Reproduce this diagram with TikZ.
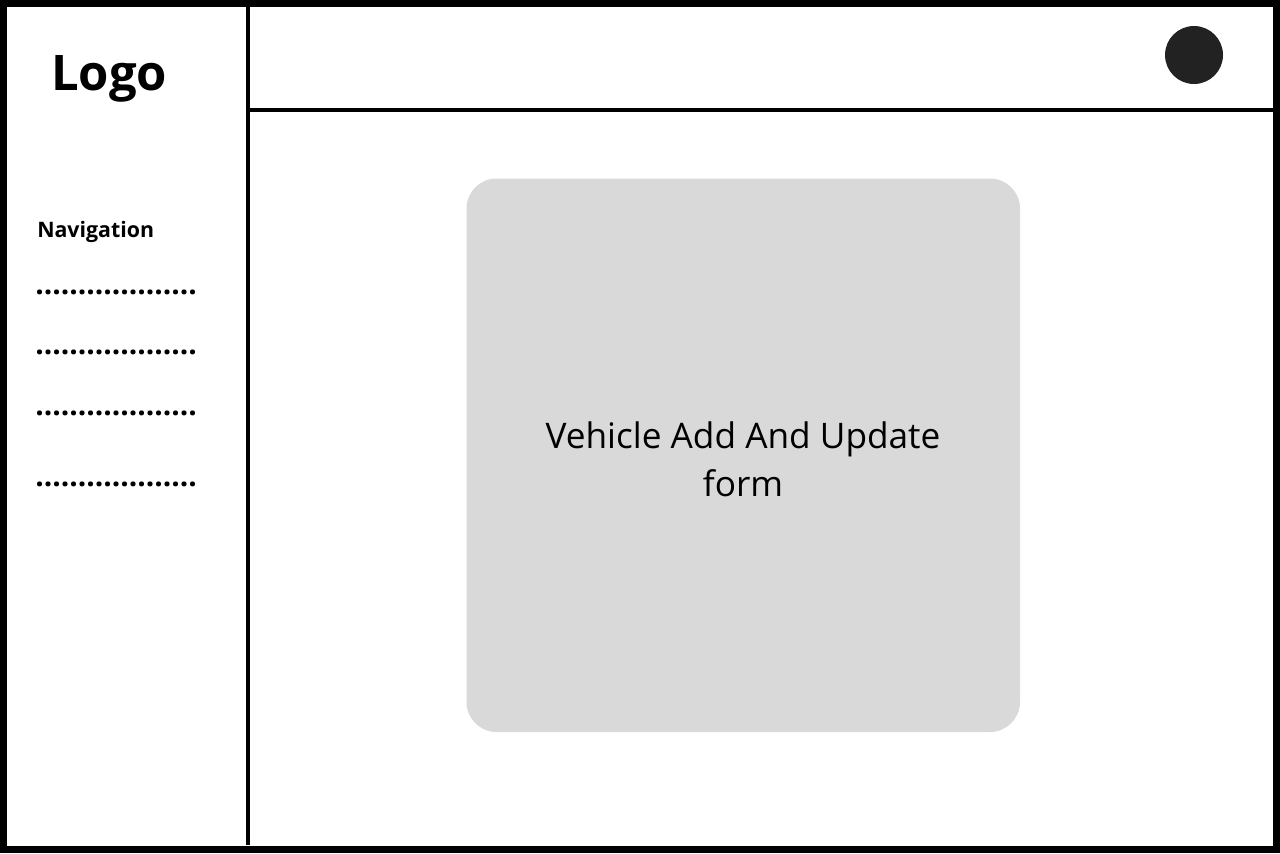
\documentclass[tikz,border=0pt]{standalone}
\usepackage{fontspec}
\setmainfont{Open Sans}
\usetikzlibrary{positioning}
\definecolor{formGray}{HTML}{D9D9D9}
\definecolor{avatarBlack}{HTML}{222222}
\begin{document}
\begin{tikzpicture}[x=0.75pt,y=-0.75pt]
    \newcommand{\navDots}{...................}
    \tikzset{
      frameLine/.style={line width=5.25pt, color=black},
      splitLine/.style={line width=3pt, color=black},
      navItem/.style={anchor=base west, inner sep=0pt, font=\fontsize{22.4}{22.4}\bfseries\selectfont}
    }
  \useasboundingbox (0,0) rectangle (1280,853);

  % outer frame, sidebar and header
  \draw[frameLine] (3.5,3.5) rectangle (1276.5,849);
  \draw[splitLine] (248,7) -- (248,845);
  \coordinate (headerLeft) at (250,109.5);
  \coordinate (headerRight) at (1273,109.5);
  \draw[splitLine] (headerLeft) -- (headerRight);

  % user avatar
  \fill[color=avatarBlack] (1194,55) circle (29);

  % sidebar
  \node[anchor=base west, inner sep=0pt, font=\fontsize{36.75}{36.75}\bfseries\selectfont] (logo) at (51,90) {Logo};
  \node[anchor=base west, inner sep=0pt, font=\fontsize{16}{16}\bfseries\selectfont] (nav) at (37,237.5) {Navigation};
  \node[navItem] (navA) at (35,294) {\navDots};
  \node[navItem] (navB) at (35,354) {\navDots};
  \node[navItem] (navC) at (35,415) {\navDots};
  \node[navItem] (navD) at (35,486) {\navDots};

  % content
  \fill[color=formGray, rounded corners=22.5pt] (466.5,178.5) rectangle (1020,732);
  \node[align=center, font=\fontsize{26.4}{36}\selectfont] (form) at (743,459) {Vehicle Add And Update\\form};
\end{tikzpicture}
\end{document}
